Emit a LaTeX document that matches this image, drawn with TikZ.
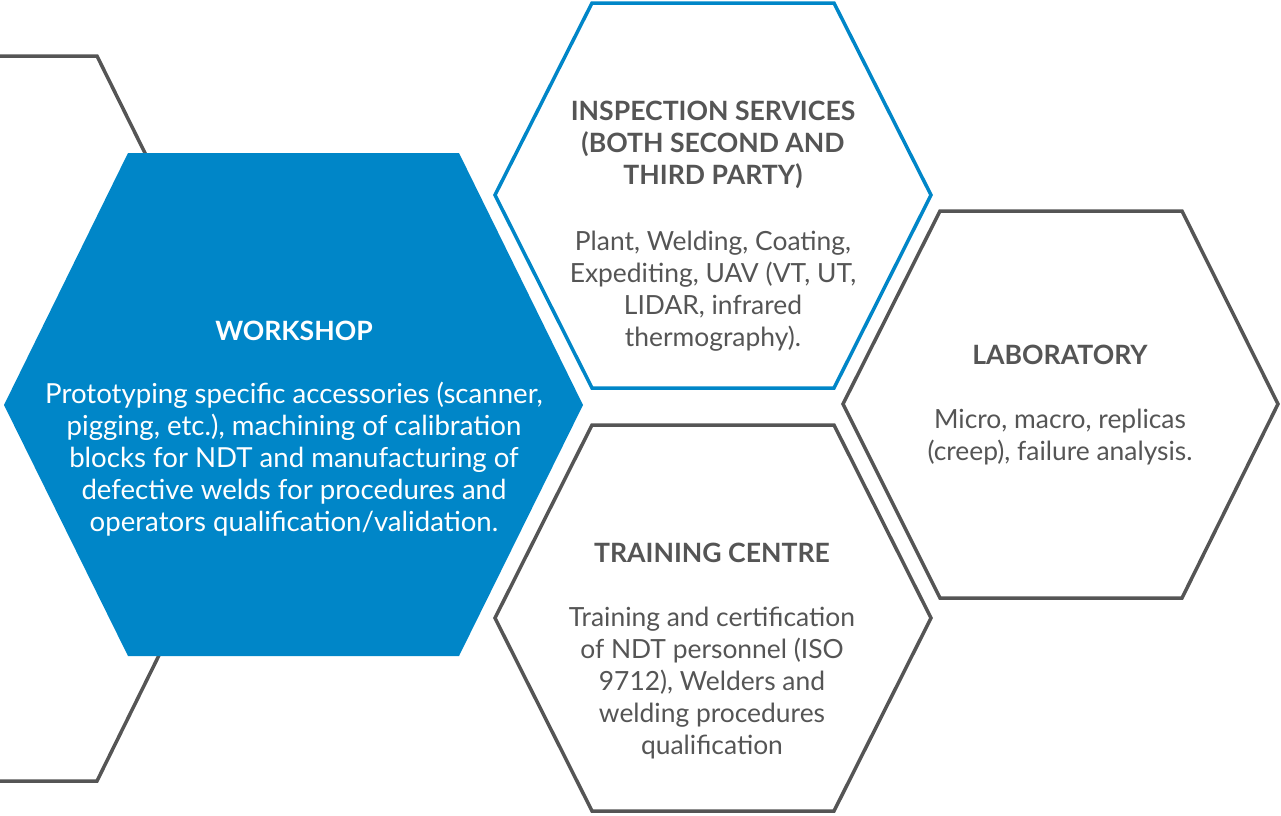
\documentclass[tikz,border=0pt]{standalone}
\usepackage{fontspec}
\setmainfont{Lato}
\usepackage{xcolor}
\usetikzlibrary{positioning, calc}

\definecolor{hexblue}{HTML}{0086C8}
\definecolor{hexgray}{HTML}{555555}
\tikzset{
  hexline/.style={draw=hexgray, line width=1.75pt, line join=miter},
  hextitle/.style={font=\bfseries\fontsize{13.3}{16}\selectfont, text=hexgray, align=center, inner sep=0pt},
  hexbody/.style={font=\fontsize{13.2}{16}\selectfont, text=hexgray, align=center, inner sep=0pt},
}

\begin{document}
\begin{tikzpicture}[x=0.5pt, y=-0.5pt]
                    \useasboundingbox (0,0) rectangle (1281,815);
                    \draw[hexline] (-30,56) -- (97,56) -- (276,418) -- (97,781) -- (-30,781);

                    \fill[hexblue] (128,153) -- (459,153) -- (583,405) -- (459,656) -- (128,656) -- (4,405) -- cycle;
                    \draw[hexline, draw=hexblue, fill=white] (592,3) -- (834,3) -- (931,195) -- (834,388) -- (592,388) -- (495,195) -- cycle;
                    \draw[hexline, fill=white] (940,211) -- (1182,211) -- (1278,404) -- (1182,598) -- (940,598) -- (843,404) -- cycle;
                    \draw[hexline, fill=white] (592,425) -- (834,425) -- (931,618) -- (834,811) -- (592,811) -- (495,618) -- cycle;

                    \node[hextitle, text=white] (worktitle) at (294,331) {WORKSHOP};
                    \node[hexbody, text=white, font=\fontsize{13.8}{16}\selectfont] (workbody) at (294,459) {Prototyping specific accessories (scanner,\\ pigging, etc.), machining of calibration\\ blocks for NDT and manufacturing of\\ defective welds for procedures and\\ operators qualification/validation.};

                    \node[hextitle] (insptitle) at (713,145) {INSPECTION SERVICES\\ (BOTH SECOND AND\\ THIRD PARTY)};
                    \node[hexbody] (inspbody) at (713,291) {Plant, Welding, Coating,\\ Expediting, UAV (VT, UT,\\ LIDAR, infrared\\ thermography).};

                    \node[hextitle] (labtitle) at (1060,355) {LABORATORY};
                    \node[hexbody] (labbody) at (1060,437) {Micro, macro, replicas\\ (creep), failure analysis.};

                    \node[hextitle] (traintitle) at (712,553) {TRAINING CENTRE};
                    \node[hexbody] (trainbody) at (712,683) {Training and certification\\ of NDT personnel (ISO\\ 9712), Welders and\\ welding procedures\\ qualification};
                \end{tikzpicture}
\end{document}
